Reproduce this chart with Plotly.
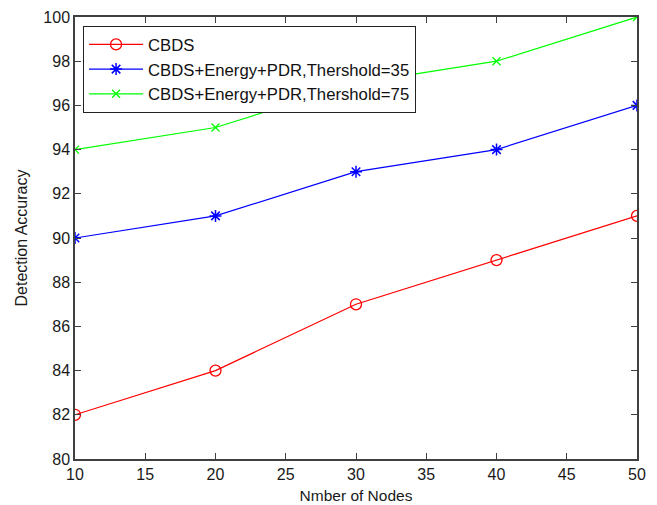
import plotly.graph_objects as go

nodes = [10, 20, 30, 40, 50]
cbds = [82, 84, 87, 89, 91]
thr35 = [90, 91, 93, 94, 96]
thr75 = [94, 95, 97, 98, 100]
names = ["CBDS", "CBDS+Energy+PDR,Thershold=35", "CBDS+Energy+PDR,Thershold=75"]
x_ticks = [10, 15, 20, 25, 30, 35, 40, 45, 50]
y_ticks = list(range(80, 101, 2))

fig = go.Figure()
fig.add_trace(go.Scatter(x=nodes, y=cbds, name=names[0], mode="lines+markers",
                         line=dict(color="#ff0000", width=1.2),
                         marker=dict(symbol="circle-open", size=11, color="#ff0000", line=dict(width=1.3))))
fig.add_trace(go.Scatter(x=nodes, y=thr35, name=names[1], mode="lines+markers",
                         line=dict(color="#0000ff", width=1.2),
                         marker=dict(symbol="asterisk-open", size=10, color="#0000ff", line=dict(width=1.5, color="#0000ff"))))
fig.add_trace(go.Scatter(x=nodes, y=thr75, name=names[2], mode="lines+markers",
                         line=dict(color="#00ff00", width=1.2),
                         marker=dict(symbol="x-thin-open", size=8, color="#00ff00", line=dict(width=1.3, color="#00ff00"))))

axis_common = dict(showline=True, linecolor="#404040", linewidth=1.5, mirror="ticks",
                   ticks="inside", ticklen=6, tickcolor="#404040", tickwidth=1,
                   showgrid=False, zeroline=False, automargin=False,
                   tickfont=dict(family="Arial", size=16, color="#1a1a1a"))

fig.update_layout(
    width=657, height=505,
    margin=dict(l=75, r=20, t=17, b=46),
    paper_bgcolor="white", plot_bgcolor="white",
    font=dict(family="Arial", color="#1a1a1a"),
    xaxis=dict(range=[10, 50], tickvals=x_ticks,
               title=dict(text="Nmber of Nodes", font=dict(size=15.5), standoff=8), **axis_common),
    yaxis=dict(range=[80, 100], tickvals=y_ticks,
               title=dict(text="Detection Accuracy", font=dict(size=16), standoff=12), **axis_common),
    legend=dict(x=0.014, y=0.98, xanchor="left", yanchor="top",
                bgcolor="white", bordercolor="#222222", borderwidth=1.2,
                font=dict(family="Arial", size=16.7, color="#111111"),
                tracegroupgap=0, itemwidth=54),
    showlegend=True,
)

fig.write_html("out.html")
